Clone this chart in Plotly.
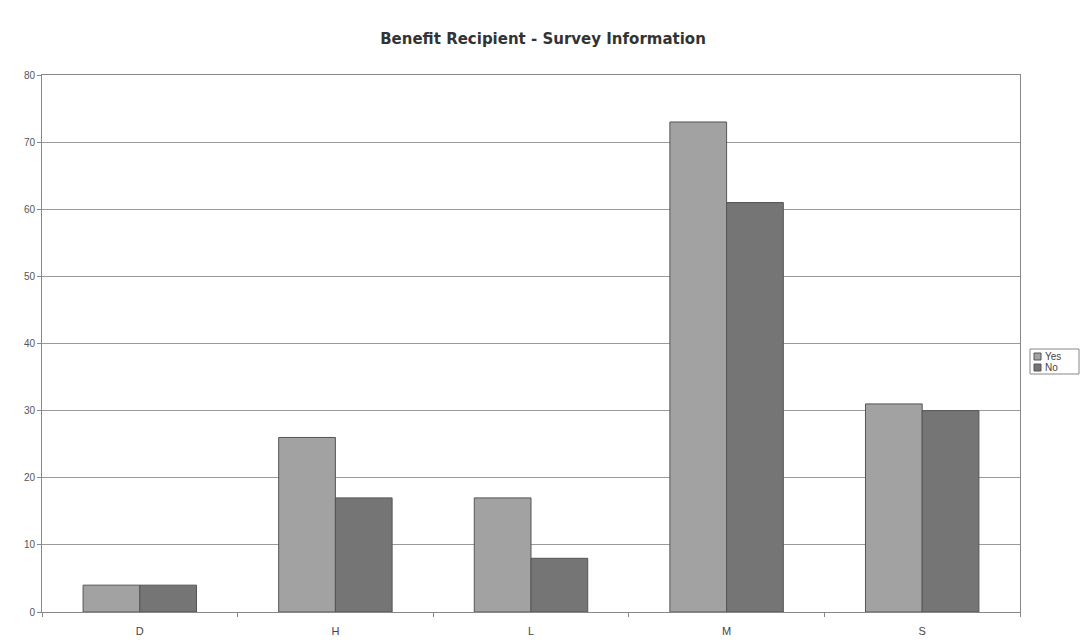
import plotly.graph_objects as go

# Survey responses per benefit group
categories = ["D", "H", "L", "M", "S"]
yes_counts = [4, 26, 17, 73, 31]
no_counts = [4, 17, 8, 61, 30]
y_ticks = [0, 10, 20, 30, 40, 50, 60, 70, 80]
series_names = ["Yes", "No"]
series_colors = ["#a2a2a2", "#757575"]

FONT = "Liberation Sans, Arial, sans-serif"
W, H = 1081, 644
ML, MR, MT, MB = 42, 61, 75, 32
PW, PH = W - ML - MR, H - MT - MB


def px_x(px):
    """Pixel column -> paper x."""
    return (px - ML) / PW


def px_y(py):
    """Pixel row -> paper y."""
    return (H - MB - py) / PH


fig = go.Figure()
for name, vals, col in zip(series_names, [yes_counts, no_counts], series_colors):
    fig.add_trace(go.Bar(
        name=name, x=categories, y=vals,
        marker=dict(color=col, line=dict(color="#555555", width=1)),
    ))

fig.update_layout(
    width=W, height=H,
    margin=dict(l=ML, r=MR, t=MT, b=MB, autoexpand=False),
    paper_bgcolor="white", plot_bgcolor="white",
    barmode="group", bargap=0.42, bargroupgap=0,
    showlegend=False,
    title=dict(
        text="<b>Benefit Recipient - Survey Information</b>",
        x=543 / W, xanchor="center", y=1 - 39 / H, yanchor="middle",
        font=dict(family="DejaVu Sans, sans-serif", size=15, color="#333333"),
    ),
    font=dict(family=FONT, size=10, color="#444444"),
)

# Compact legend box at the right of the plot
shapes = [dict(
    type="rect", xref="paper", yref="paper",
    x0=px_x(1030), x1=px_x(1079), y0=px_y(374), y1=px_y(349),
    line=dict(color="#888888", width=1), fillcolor="white", layer="above",
)]
annotations = []
for i, (name, col) in enumerate(zip(series_names, series_colors)):
    top = 353 + i * 11
    shapes.append(dict(
        type="rect", xref="paper", yref="paper",
        x0=px_x(1034), x1=px_x(1041), y0=px_y(top + 7), y1=px_y(top),
        line=dict(color="#555555", width=1), fillcolor=col, layer="above",
    ))
    annotations.append(dict(
        xref="paper", yref="paper", x=px_x(1043), y=px_y(top + 3.5),
        xanchor="left", yanchor="middle", showarrow=False, text=name,
        font=dict(family=FONT, size=10, color="#444444"),
    ))
fig.update_layout(shapes=shapes, annotations=annotations)

fig.update_xaxes(
    type="category", tickson="boundaries",
    ticks="outside", ticklen=4, tickcolor="#888888",
    showline=True, linecolor="#888888", linewidth=1, mirror=True,
    showgrid=False, ticklabelstandoff=9,
    tickfont=dict(family=FONT, size=11, color="#444444"),
)
fig.update_yaxes(
    range=[0, 80], tickvals=y_ticks,
    ticks="outside", ticklen=4, tickcolor="#888888",
    showline=True, linecolor="#888888", linewidth=1, mirror=True,
    showgrid=True, gridcolor="#9a9a9a", gridwidth=1,
    zeroline=False,
    tickfont=dict(family=FONT, size=10, color="#555555"),
)

fig.write_html("out.html")
